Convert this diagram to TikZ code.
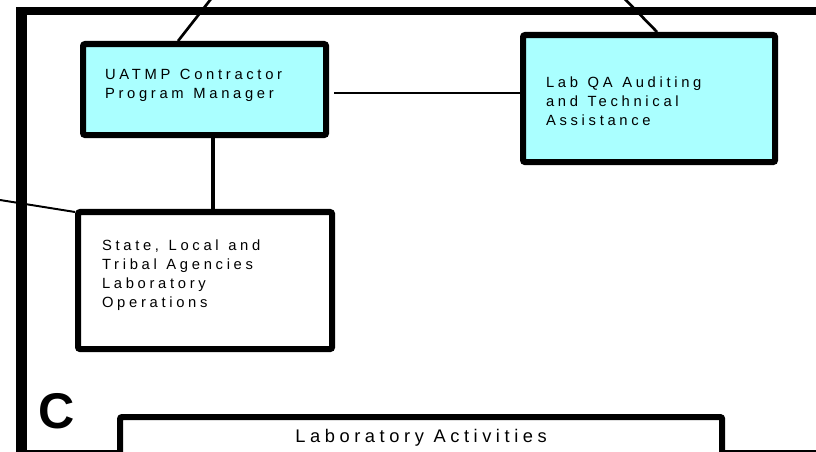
\documentclass[tikz,border=0pt]{standalone}
\usepackage{fontspec}
\setmainfont{Liberation Sans}
\newfontfamily\spacedfont[LetterSpace=25]{Liberation Sans}
\usetikzlibrary{positioning, calc}
\definecolor{qacyan}{RGB}{170,255,255}
\newcommand{\wordgap}{\spaceskip=0.65em plus 0.2em\relax}

\begin{document}
\begin{tikzpicture}[
    x=0.025cm, y=-0.025cm,
    unit/.style={draw, line width=4.3pt, rounded corners=1.5pt, anchor=north west, align=left, inner ysep=0pt, font={\spacedfont\fontsize{10.5}{13.5}\selectfont}},
    link/.style={line width=1.4pt},
    frameline/.style={line width=7.6pt}
]
    \useasboundingbox (0,0) rectangle (816,452);

    % Outer frame
    \draw[frameline] (21.3,7.5) -- (21.3,470);
    \draw[frameline, line width=5.3pt] (16,11.2) -- (830,11.2);
    \draw[line width=1pt] (16,451) -- (816,451);

    % Units
    \node[unit, fill=qacyan, minimum width=6.075cm, minimum height=2.275cm, text width=4.975cm, inner xsep=0.55cm, text depth=21.4pt] (pm) at (80,41) {\wordgap UATMP Contractor\\Program Manager};
    \node[unit, fill=qacyan, minimum width=6.3cm, minimum height=3.175cm, text width=5.15cm, inner xsep=0.575cm, text height=11.9pt] (qa) at (520,32) {\wordgap Lab QA Auditing\\and Technical\\Assistance};
    \node[unit, fill=white, minimum width=6.35cm, minimum height=3.425cm, text width=5.15cm, inner xsep=0.6cm, text depth=50.5pt] (st) at (75,209) {\wordgap State, Local and\\Tribal Agencies\\Laboratory\\Operations};
    \node[unit, fill=white, align=center, minimum width=15.05cm, minimum height=1.05cm, font={\spacedfont\fontsize{13}{15}\selectfont}] (lab) at (117,414) {Laboratory Activities};
    \node[font={\bfseries\fontsize{35.7}{40}\selectfont}, inner sep=0pt] (tag) at (56.5,411) {C};

    % Free ends outside the frame
    \coordinate (pmup) at (218,-10);
    \coordinate (qaup) at (616,-10);
    \coordinate (stleft) at (-10,198.4);

    % Connections
    \draw[link, line width=1.9pt] ([shift={(-26.5,0)}]pm.north) -- (pmup);
    \draw[link, line width=1.9pt] ([shift={(8,0)}]qa.north) -- (qaup);
    \draw[link] ([shift={(5,3.5)}]pm.east) coordinate (pmright) -- (pmright -| qa.west);
    \draw[link, line width=3.3pt] ([shift={(8.5,0)}]pm.south) coordinate (pmdown) -- (pmdown |- st.north);
    \draw[link] (stleft) -- ([shift={(0,3)}]st.north west);
\end{tikzpicture}
\end{document}
